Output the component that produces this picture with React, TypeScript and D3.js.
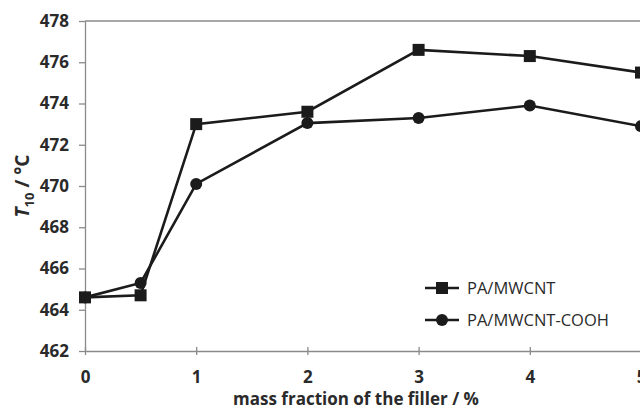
import React, { useEffect, useRef } from 'react';
import * as d3 from 'd3';

const fractions = [0, 0.5, 1, 2, 3, 4, 5];
const mwcnt = [464.6, 464.7, 473.0, 473.6, 476.6, 476.3, 475.5];
const mwcntCooh = [464.6, 465.3, 470.1, 473.05, 473.3, 473.9, 472.9];
const xTicks = [0, 1, 2, 3, 4, 5];
const yTicks = [462, 464, 466, 468, 470, 472, 474, 476, 478];
const seriesNames = ['PA/MWCNT', 'PA/MWCNT-COOH'];

const App = () => {
  const ref = useRef<SVGSVGElement | null>(null);

  useEffect(() => {
    const svg = d3.select(ref.current);
    svg.selectAll('*').remove();

    const font = "'Open Sans', 'DejaVu Sans', sans-serif";
    const ink = '#1b1b1b';

    const x = d3.scaleLinear().domain([0, 5]).range([85, 641]);
    const y = d3.scaleLinear().domain([462, 478]).range([351, 21]);

    // top border
    svg.append('line')
      .attr('x1', x(0)).attr('x2', 640)
      .attr('y1', y(478)).attr('y2', y(478))
      .attr('stroke', '#8a8a8a').attr('stroke-width', 1.3);

    // y axis
    const yAxis = svg.append('g').attr('transform', `translate(${x(0)},0)`)
      .call(d3.axisLeft(y).tickValues(yTicks).tickSize(6).tickPadding(10).tickSizeOuter(0));
    yAxis.select('.domain').attr('stroke', '#8a8a8a').attr('stroke-width', 1.3);
    yAxis.selectAll('.tick line').attr('stroke', '#8a8a8a').attr('stroke-width', 1.3);
    yAxis.selectAll('.tick text')
      .attr('font-family', font).attr('font-size', 17).attr('font-weight', 'bold')
      .attr('fill', '#2a2a2a');

    // x axis
    const xAxis = svg.append('g').attr('transform', `translate(0,${y(462)})`)
      .call(d3.axisBottom(x).tickValues(xTicks).tickFormat(d3.format('d')).tickSize(0).tickPadding(20).tickSizeOuter(0));
    xAxis.select('.domain').attr('stroke', '#8a8a8a').attr('stroke-width', 1.3);
    xAxis.selectAll('.tick')
      .append('line').attr('y1', -4).attr('y2', 4)
      .attr('stroke', '#8a8a8a').attr('stroke-width', 1.3);
    xAxis.selectAll('.tick text')
      .attr('font-family', font).attr('font-size', 17).attr('font-weight', 'bold')
      .attr('fill', '#2a2a2a');

    // axis titles
    svg.append('text')
      .attr('x', 356).attr('y', 405)
      .attr('text-anchor', 'middle')
      .attr('font-family', font).attr('font-size', 17).attr('font-weight', 'bold')
      .attr('fill', '#2a2a2a')
      .text('mass fraction of the filler / %');

    const yt = svg.append('text')
      .attr('transform', `translate(29,${y(470)}) rotate(-90)`)
      .attr('text-anchor', 'middle')
      .attr('font-family', font).attr('font-size', 19).attr('font-weight', 'bold')
      .attr('fill', '#2a2a2a');
    yt.append('tspan').attr('font-style', 'italic').text('T');
    yt.append('tspan').attr('font-size', 13).attr('dy', 5).text('10');
    yt.append('tspan').attr('dy', -5).text(' / °C');

    const line = d3.line<number>()
      .x((_, i) => x(fractions[i]))
      .y(d => y(d));

    const series = [mwcnt, mwcntCooh];
    series.forEach((vals, si) => {
      svg.append('path')
        .datum(vals)
        .attr('fill', 'none')
        .attr('stroke', ink)
        .attr('stroke-width', 2.6)
        .attr('d', line);
      const g = svg.append('g');
      vals.forEach((v, i) => {
        if (si === 0) {
          g.append('rect')
            .attr('x', x(fractions[i]) - 6).attr('y', y(v) - 6)
            .attr('width', 12).attr('height', 12).attr('fill', ink);
        } else {
          g.append('circle')
            .attr('cx', x(fractions[i])).attr('cy', y(v)).attr('r', 6).attr('fill', ink);
        }
      });
    });

    // legend
    seriesNames.forEach((name, i) => {
      const ly = 288 + i * 32;
      svg.append('line')
        .attr('x1', 425).attr('x2', 459).attr('y1', ly).attr('y2', ly)
        .attr('stroke', ink).attr('stroke-width', 2.6);
      if (i === 0) {
        svg.append('rect').attr('x', 436).attr('y', ly - 6).attr('width', 12).attr('height', 12).attr('fill', ink);
      } else {
        svg.append('circle').attr('cx', 442).attr('cy', ly).attr('r', 6).attr('fill', ink);
      }
      svg.append('text')
        .attr('x', 467).attr('y', ly + 6)
        .attr('font-family', font).attr('font-size', 16.5)
        .attr('fill', '#2a2a2a')
        .text(name);
    });
  }, []);

  return (
    <svg ref={ref} width={640} height={412}
      style={{ position: 'absolute', left: 0, top: 0, background: '#fff' }} />
  );
};

export default App;
